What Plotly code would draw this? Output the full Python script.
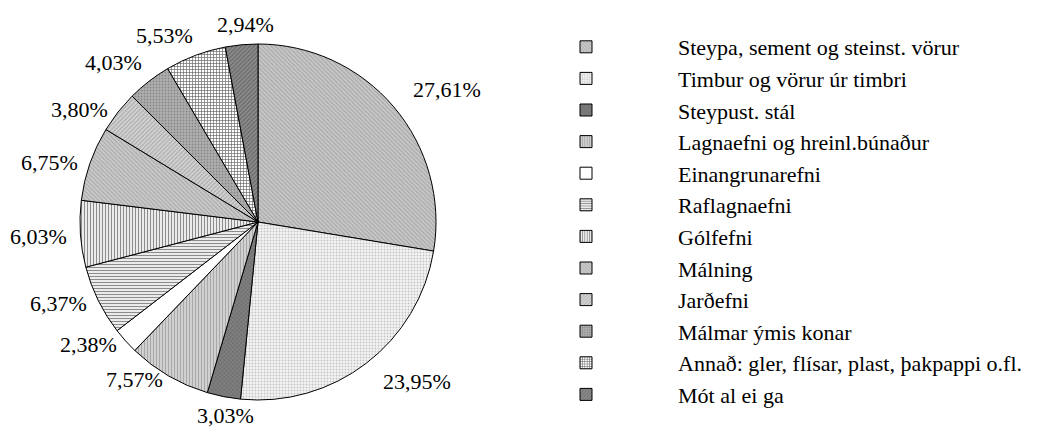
import math
import plotly.graph_objects as go

categories = ["Steypa, sement og steinst. vörur", "Timbur og vörur úr timbri", "Steypust. stál",
              "Lagnaefni og hreinl.búnaður", "Einangrunarefni", "Raflagnaefni", "Gólfefni",
              "Málning", "Jarðefni", "Málmar ýmis konar",
              "Annað: gler, flísar, plast, þakpappi o.fl.", "Mót al ei ga"]
values = [27.61, 23.95, 3.03, 7.57, 2.38, 6.37, 6.03, 6.75, 3.80, 4.03, 5.53, 2.94]
labels_text = ["27,61%", "23,95%", "3,03%", "7,57%", "2,38%", "6,37%", "6,03%",
               "6,75%", "3,80%", "4,03%", "5,53%", "2,94%"]

bg = ["#c8c8c8", "#f4f4f4", "#808080", "#d0d0d0", "#ffffff", "#ffffff", "#ffffff",
      "#cacaca", "#d2d2d2", "#b0b0b0", "#ffffff", "#8c8c8c"]
fg = ["#a4a4a4", "#c4c4c4", "#606060", "#a8a8a8", "#ffffff", "#8c8c8c", "#8c8c8c",
      "#a6a6a6", "#a8a8a8", "#888888", "#6a6a6a", "#646464"]
shapes = ["\\", ".", "x", "|", "", "-", "|", "\\", "/", ".", "+", "/"]
sizes = [3, 3, 3, 3, 4, 3, 3, 3, 3, 3, 3, 3]
solid = [0.35, 0.3, 0.3, 0.35, 0.3, 0.45, 0.45, 0.35, 0.35, 0.3, 0.4, 0.35]

W, H = 1040, 431
CX, CY, R = 250, 214, 178  # requested pie centre/radius in px (render offset compensated)

fig = go.Figure()
fig.add_trace(go.Pie(
    labels=categories, values=values, textinfo="none", sort=False,
    direction="clockwise", rotation=0,
    marker=dict(colors=bg, line=dict(color="black", width=1),
                pattern=dict(shape=shapes, fgcolor=fg, bgcolor=bg, size=sizes, solidity=solid,
                             fillmode="replace")),
    domain=dict(x=[(CX - R) / W, (CX + R) / W], y=[1 - (CY + R) / H, 1 - (CY - R) / H]),
    automargin=False, showlegend=False, hoverinfo="label+percent",
))

# legend entries (bar traces give patterned squares)
for i, c in enumerate(categories):
    fig.add_trace(go.Bar(
        x=[None], y=[None], name=c, legendgroup=f"g{i}", showlegend=True,
        marker=dict(color=bg[i], line=dict(color="black", width=1),
                    pattern=dict(shape=shapes[i], fgcolor=fg[i], bgcolor=bg[i],
                                 size=sizes[i], solidity=solid[i], fillmode="replace")),
    ))

# outside labels placed from the data (slice mid-angles)
PX, PY = 255, 216
RH, RV_TOP, RV_BOT = 194, 186, 180
total = sum(values)
cum = 0.0
for v, t in zip(values, labels_text):
    mid = (cum + v / 2) / total * 2 * math.pi
    cum += v
    s, c = math.sin(mid), math.cos(mid)
    xa = "left" if s > 0.2 else ("right" if s < -0.2 else "center")
    if c > 0.63:
        ya = "bottom"
    elif c < -0.7 and s > -0.3:
        ya = "top"
    else:
        ya = "middle"
    rv = RV_TOP if c > 0 else RV_BOT
    fig.add_annotation(
        x=(PX + RH * s) / W, y=1 - (PY - rv * c) / H, xref="paper", yref="paper",
        text=t, showarrow=False, xanchor=xa, yanchor=ya,
        font=dict(family="Liberation Serif", size=22, color="black"),
    )

fig.update_layout(
    width=W, height=H, margin=dict(l=0, r=0, t=0, b=0),
    paper_bgcolor="white", plot_bgcolor="white",
    font=dict(family="Liberation Serif", color="black"),
    xaxis=dict(visible=False), yaxis=dict(visible=False),
    legend=dict(x=486 / W, y=1 - 18 / H, xanchor="left", yanchor="top",
                font=dict(family="Liberation Serif", size=22, color="black"),
                itemwidth=174, traceorder="grouped", tracegroupgap=0),
)

fig.write_html("out.html")
